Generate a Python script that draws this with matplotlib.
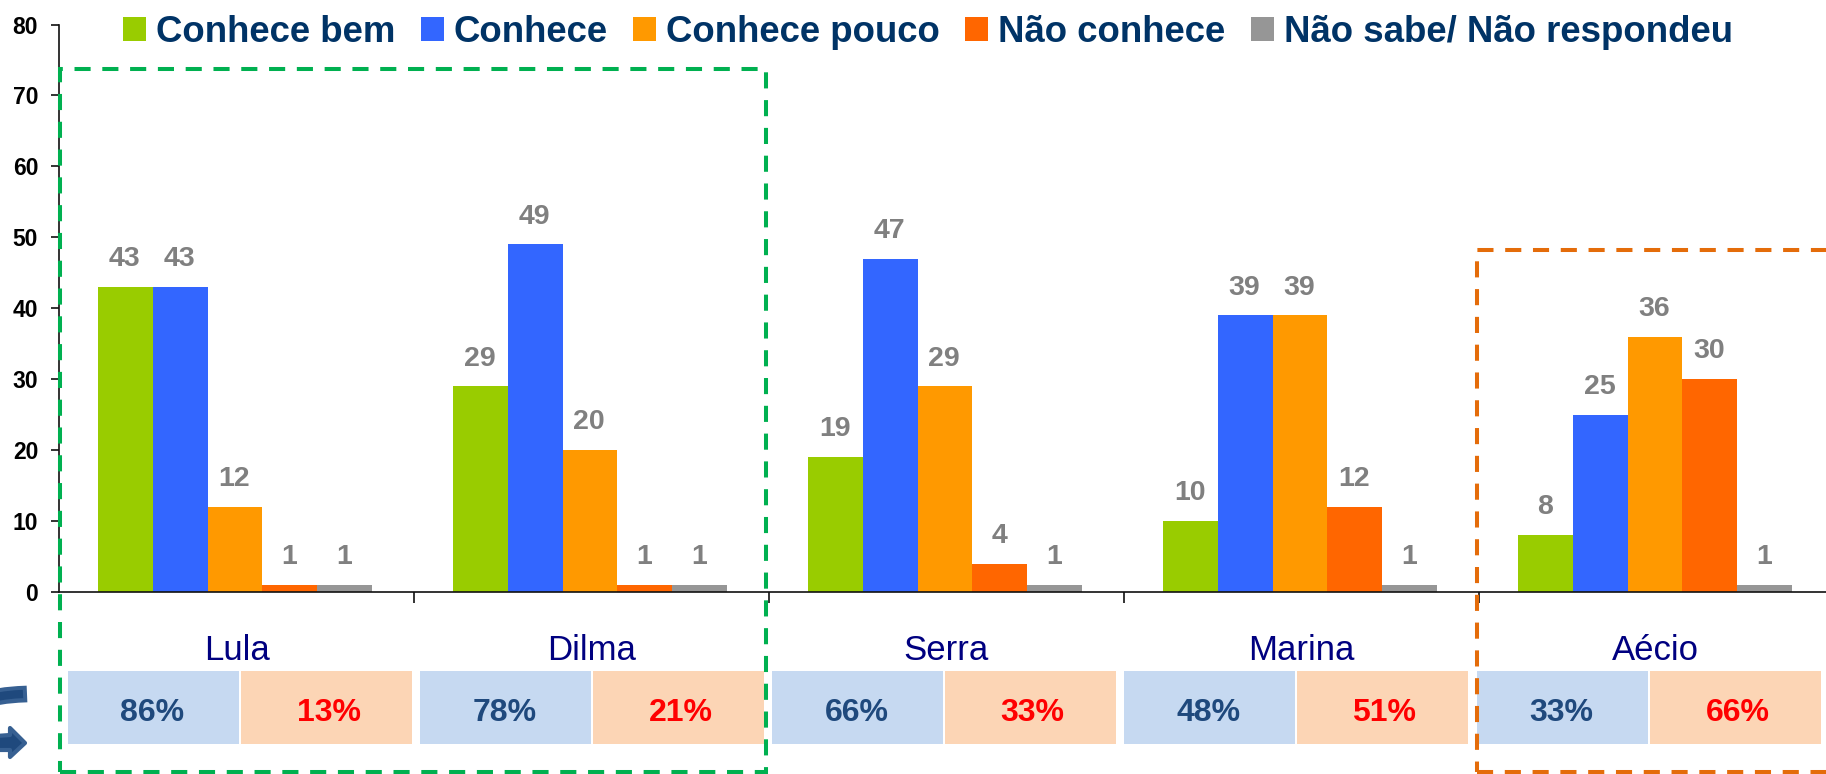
import matplotlib
matplotlib.use("Agg")
import matplotlib.pyplot as plt
from matplotlib.patches import Rectangle, Polygon, Patch, PathPatch
from matplotlib.path import Path

candidates = ["Lula", "Dilma", "Serra", "Marina", "Aécio"]
series_names = ["Conhece bem", "Conhece", "Conhece pouco", "Não conhece", "Não sabe/ Não respondeu"]
conhece_bem = [43, 29, 19, 10, 8]
conhece = [43, 49, 47, 39, 25]
conhece_pouco = [12, 20, 29, 39, 36]
nao_conhece = [1, 1, 4, 12, 30]
nao_sabe = [1, 1, 1, 1, 1]
pct_conhece = ["86%", "78%", "66%", "48%", "33%"]
pct_nao = ["13%", "21%", "33%", "51%", "66%"]
y_ticks = [0, 10, 20, 30, 40, 50, 60, 70, 80]

colors = ["#99CC00", "#3366FF", "#FF9900", "#FF6600", "#969696"]
W, H = 1826, 774
plt.rcParams["font.family"] = ["Liberation Sans", "DejaVu Sans"]
fig = plt.figure(figsize=(W / 100, H / 100), dpi=100, facecolor="white")


def fx(px):
    return px / W


def fy(py):
    return 1 - py / H


ax = fig.add_axes([fx(59), fy(592), fx(W - 59), fy(24.5) - fy(592)])
ax.set_xlim((59 - 235) / 355, (W - 235) / 355)
ax.set_ylim(0, 80)
bar_w = 54.8 / 355
all_series = [conhece_bem, conhece, conhece_pouco, nao_conhece, nao_sabe]
for s, (vals, col) in enumerate(zip(all_series, colors)):
    xs = [i + (s - 2) * bar_w for i in range(len(candidates))]
    ax.bar(xs, vals, width=bar_w, color=col, linewidth=0, zorder=2)
    for x, v in zip(xs, vals):
        ax.annotate(str(v), (x, v), xytext=(-0.5, 20), textcoords="offset points",
                    ha="center", va="center", fontsize=20.5, fontweight="bold", color="#808080")

for sp in ("top", "right"):
    ax.spines[sp].set_visible(False)
for sp in ("left", "bottom"):
    ax.spines[sp].set_linewidth(1.2)
    ax.spines[sp].set_color("#111111")
ax.set_yticks(y_ticks)
ax.tick_params(axis="y", labelsize=16.5, length=6, width=1.2, pad=9, color="#111111")
for t in ax.get_yticklabels():
    t.set_fontweight("bold")
ax.set_xticks([i + 0.504 for i in range(len(candidates) - 1)])
ax.set_xticklabels([])
ax.tick_params(axis="x", which="major", length=8, width=1.2, color="#111111")
ax.set_xticks([i * 0.9985 + 0.007 for i in range(len(candidates))], minor=True)
ax.set_xticklabels(candidates, minor=True)
ax.tick_params(axis="x", which="minor", length=0, pad=30, labelsize=25, labelcolor="#000080")

handles = [Patch(facecolor=c, edgecolor="none") for c in colors]
fig.legend(handles, series_names, loc="upper left", bbox_to_anchor=(fx(123), fy(15)), ncols=5,
           frameon=False, borderpad=0, borderaxespad=0, handlelength=0.63, handleheight=0.63,
           handletextpad=0.27, columnspacing=0.69,
           prop={"family": "Liberation Sans", "weight": "bold", "size": 26.4}, labelcolor="#003366")

# summary cells below the chart
cell_left = [68, 420, 772, 1124, 1477]
cell_w = 171
for left, a, b in zip(cell_left, pct_conhece, pct_nao):
    for x0, col, txt, tc, dx in ((left, "#C6D9F1", a, "#1F497D", -1), (left + 173, "#FCD5B5", b, "#FF0000", 2)):
        fig.add_artist(Rectangle((fx(x0), fy(744)), fx(cell_w), fy(671) - fy(744), transform=fig.transFigure,
                                 facecolor=col, edgecolor="none"))
        fig.text(fx(x0 + cell_w / 2 + dx), fy(713), txt, ha="center", va="center",
                 fontsize=23, fontweight="bold", color=tc)

# dashed highlight frames
for (x0, y0, x1, y1), col in (((60, 69, 766, 772), "#00B050"), ((1477, 250, 1900, 772), "#E46C0A")):
    fig.add_artist(Rectangle((fx(x0), fy(y1)), fx(x1 - x0), fy(y0) - fy(y1), transform=fig.transFigure,
                             facecolor="none", edgecolor=col, linewidth=2.9, linestyle=(0, (4, 2.9)), zorder=5))

# arrows cut off by the left edge
top_arrow = Path([(fx(-8), fy(698)), (fx(5), fy(695)), (fx(15), fy(694.5)), (fx(27), fy(694))],
                 [Path.MOVETO, Path.CURVE4, Path.CURVE4, Path.CURVE4])
fig.add_artist(PathPatch(top_arrow, transform=fig.transFigure, fill=False, edgecolor="#376092", linewidth=12, capstyle="butt"))
top_inner = Path([(fx(-8), fy(698)), (fx(5), fy(695)), (fx(12), fy(694.5)), (fx(23), fy(694))],
                 [Path.MOVETO, Path.CURVE4, Path.CURVE4, Path.CURVE4])
fig.add_artist(PathPatch(top_inner, transform=fig.transFigure, fill=False, edgecolor="#1F497D", linewidth=6, capstyle="butt"))
arrow_pts = [(-4, 736), (10, 735), (10, 728), (25, 743), (10, 757), (10, 750), (-4, 750)]
fig.add_artist(Polygon([(fx(x), fy(y)) for x, y in arrow_pts], closed=True, transform=fig.transFigure,
                       facecolor="#1F497D", edgecolor="#376092", linewidth=3, joinstyle="round"))

fig.savefig("out.png", dpi=100, facecolor="white")
